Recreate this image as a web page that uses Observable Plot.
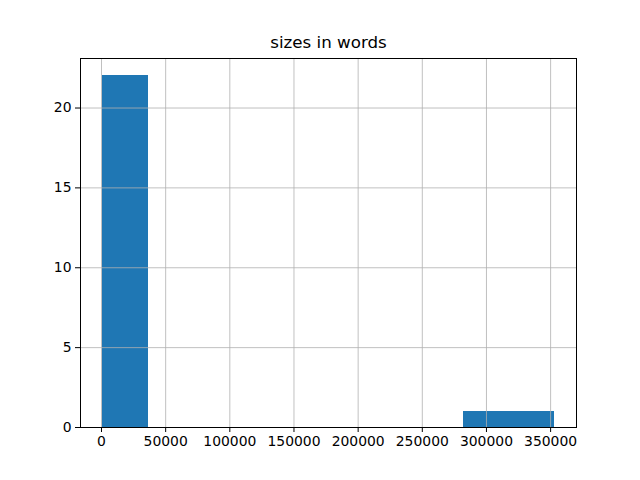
<!DOCTYPE html>
<html>
<head>
<meta charset="utf-8">
<script src="https://cdn.jsdelivr.net/npm/d3@7"></script>
<script src="https://cdn.jsdelivr.net/npm/@observablehq/plot@0.6"></script>
<style>
  html, body { margin: 0; padding: 0; background: #fff; }
  svg { display: block; }
</style>
</head>
<body>
<div id="chart"></div>
<script>
const title = "sizes in words";
const binStarts = [1200, 36340, 71480, 106620, 141760, 176900, 212040, 247180, 282320, 317460];
const binEnds   = [36340, 71480, 106620, 141760, 176900, 212040, 247180, 282320, 317460, 352600];
const counts    = [22, 0, 0, 0, 0, 0, 0, 0, 1, 1];
const xTicks = [0, 50000, 100000, 150000, 200000, 250000, 300000, 350000];
const yTicks = [0, 5, 10, 15, 20];

const bins = counts.map((c, i) => ({x1: binStarts[i], x2: binEnds[i], count: c}));

const chart = Plot.plot({
  width: 640,
  height: 480,
  marginLeft: 80,
  marginRight: 64,
  marginTop: 58,
  marginBottom: 53,
  style: {fontFamily: "DejaVu Sans", fontSize: "13.9px", color: "#000", background: "#fff"},
  x: {domain: [-16370, 370170], label: null},
  y: {domain: [0, 23.1], label: null},
  marks: [
    Plot.rectY(bins.filter(d => d.count > 0), {x1: "x1", x2: "x2", y1: 0, y2: "count", fill: "#1f77b4", stroke: "#1f77b4", strokeWidth: 1, inset: 0, shapeRendering: "crispEdges"}),
    Plot.ruleX(xTicks, {stroke: "#b0b0b0", strokeWidth: 0.8}),
    Plot.ruleY(yTicks, {stroke: "#b0b0b0", strokeWidth: 0.8}),
    Plot.frame({stroke: "#000000", strokeOpacity: 1, strokeWidth: 1.2, shapeRendering: "crispEdges"}),
    Plot.axisX({ticks: xTicks, tickFormat: d => String(d), tickSize: 5, tickPadding: 4, fontSize: 13.9, label: null, strokeWidth: 1}),
    Plot.axisY({ticks: yTicks, tickFormat: d => String(d), tickSize: 5, tickPadding: 4, fontSize: 13.9, label: null, strokeWidth: 1}),
    Plot.text([title], {frameAnchor: "top", lineAnchor: "bottom", dy: -11, fontSize: 16.7, fill: "#000"})
  ]
});
document.getElementById("chart").appendChild(chart);
</script>
</body>
</html>
